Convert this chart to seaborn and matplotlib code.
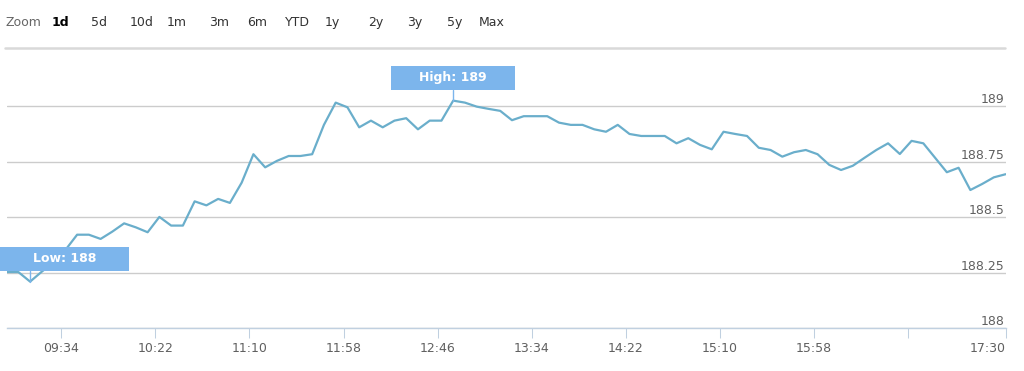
import numpy as np
import pandas as pd
import matplotlib
matplotlib.use("Agg")
import matplotlib.pyplot as plt
import seaborn as sns
from matplotlib.transforms import ScaledTranslation, blended_transform_factory, offset_copy
from matplotlib.patches import Rectangle
from matplotlib.lines import Line2D

# ---------------- data ----------------
prices = [
    188.253, 188.253, 188.210, 188.255, 188.298, 188.352, 188.421, 188.421, 188.402, 188.435,
    188.472, 188.454, 188.432, 188.501, 188.462, 188.462, 188.571, 188.553, 188.582, 188.564,
    188.655, 188.783, 188.724, 188.753, 188.775, 188.775, 188.783, 188.915, 189.015, 188.994,
    188.904, 188.934, 188.904, 188.934, 188.945, 188.895, 188.934, 188.934, 189.024, 189.015,
    188.997, 188.987, 188.978, 188.936, 188.954, 188.954, 188.954, 188.925, 188.915, 188.915,
    188.895, 188.884, 188.915, 188.874, 188.865, 188.865, 188.865, 188.832, 188.855, 188.825,
    188.805, 188.884, 188.874, 188.865, 188.812, 188.802, 188.772, 188.792, 188.802, 188.783,
    188.735, 188.712, 188.731, 188.767, 188.802, 188.832, 188.784, 188.843, 188.832, 188.767,
    188.702, 188.722, 188.622, 188.649, 188.679, 188.693,
]
start_time = "09:06"
step_minutes = 6

x_tick_times = ["09:34", "10:22", "11:10", "11:58", "12:46", "13:34", "14:22",
                "15:10", "15:58", "16:46", "17:36"]
x_tick_labels = ["09:34", "10:22", "11:10", "11:58", "12:46", "13:34", "14:22",
                 "15:10", "15:58", "", "17:30"]
y_ticks = [188, 188.25, 188.5, 188.75, 189]
y_tick_labels = ["188", "188.25", "188.5", "188.75", "189"]

zoom_buttons = ["Zoom", "1d", "5d", "10d", "1m", "3m", "6m", "YTD", "1y", "2y", "3y", "5y", "Max"]
active_button = "1d"

# ---------------- style / layout ----------------
W, H = 1024, 371
LINE_COLOR = "#6aaecb"
FLAG_COLOR = "#7cb5ec"
GRID_COLOR = "#cccccc"
AXIS_COLOR = "#c0d0e0"
TEXT_COLOR = "#606060"
button_left_px = [6, 52, 91, 130, 167, 209, 247, 285, 325, 368, 407, 447, 479]


def to_min(s):
    h, m = s.split(":")
    return int(h) * 60 + int(m)


minutes = to_min(start_time) + step_minutes * np.arange(len(prices))
df = pd.DataFrame({"minute": minutes, "price": prices})

sns.set_theme(style="white")
plt.rcParams["font.family"] = ["DejaVu Sans"]

fig = plt.figure(figsize=(W / 100, H / 100), dpi=100)
fig.patch.set_facecolor("white")
ax = fig.add_axes([6.6 / W, 1 - 328.3 / H, 999 / W, 266.8 / H])
ax.set_facecolor("white")

sns.lineplot(data=df, x="minute", y="price", ax=ax, color=LINE_COLOR,
             linewidth=1.6, zorder=3)
ax.set_xlim(minutes[0], minutes[-1])
ax.set_ylim(188, 189.2)
ax.set_xlabel("")
ax.set_ylabel("")

# grid & axes
ax.set_yticks(y_ticks)
ax.yaxis.grid(True, color=GRID_COLOR, linewidth=1.0)
ax.xaxis.grid(False)
ax.tick_params(axis="y", length=0, labelleft=False, labelright=False)
for s in ["top", "left", "right"]:
    ax.spines[s].set_visible(False)
ax.spines["bottom"].set_color(AXIS_COLOR)
ax.spines["bottom"].set_linewidth(1.0)

ax.set_xticks([to_min(t) for t in x_tick_times])
ax.set_xticklabels(x_tick_labels)
ax.tick_params(axis="x", length=7.2, width=0.75, color=AXIS_COLOR, pad=2.6,
               labelsize=9, labelcolor=TEXT_COLOR, direction="out", bottom=True)
ax.get_xticklabels()[-1].set_ha("right")

# right-side y labels sitting above gridlines
ylab_trans = offset_copy(blended_transform_factory(ax.transAxes, ax.transData),
                         fig=fig, x=-1.5, y=3, units="dots")
for t, lab in zip(y_ticks, y_tick_labels):
    ax.text(1.0, t, lab, transform=ylab_trans, ha="right", va="baseline",
            fontsize=9, color=TEXT_COLOR, clip_on=False)

# zoom toolbar
for lab, xl in zip(zoom_buttons, button_left_px):
    bold = lab == active_button
    col = "#666666" if lab == "Zoom" else ("#000000" if bold else "#333333")
    fig.text(xl / W, 1 - 22.3 / H, lab, ha="left", va="center", fontsize=9,
             color=col, fontweight="bold" if bold else "normal")
fig.add_artist(Line2D([5 / W, 1005 / W], [1 - 48.3 / H] * 2, color="#d9d9d9",
                      linewidth=1.8))

# high / low flags
px = 1 / fig.dpi


def flag(idx, text, box_w, dx_center):
    T = fig.dpi_scale_trans + ScaledTranslation(minutes[idx], prices[idx], ax.transData)
    gap, box_h = 11, 24
    fig.add_artist(Line2D([0, 0], [0, gap * px], transform=T, color=FLAG_COLOR,
                          linewidth=1.0, zorder=5))
    fig.add_artist(Rectangle(((dx_center - box_w / 2) * px, gap * px), box_w * px,
                             box_h * px, transform=T, facecolor=FLAG_COLOR,
                             edgecolor="none", zorder=6))
    fig.text(dx_center * px, (gap + box_h / 2) * px, text, transform=T,
             ha="center", va="center", color="white", fontsize=9,
             fontweight="bold", zorder=7)


hi = int(np.argmax(prices))
lo = int(np.argmin(prices))
flag(hi, f"High: {prices[hi]:.0f}", 124, 0)
flag(lo, f"Low: {prices[lo]:.0f}", 129, 34.6)

fig.savefig("out.png", dpi=100, facecolor="white")
